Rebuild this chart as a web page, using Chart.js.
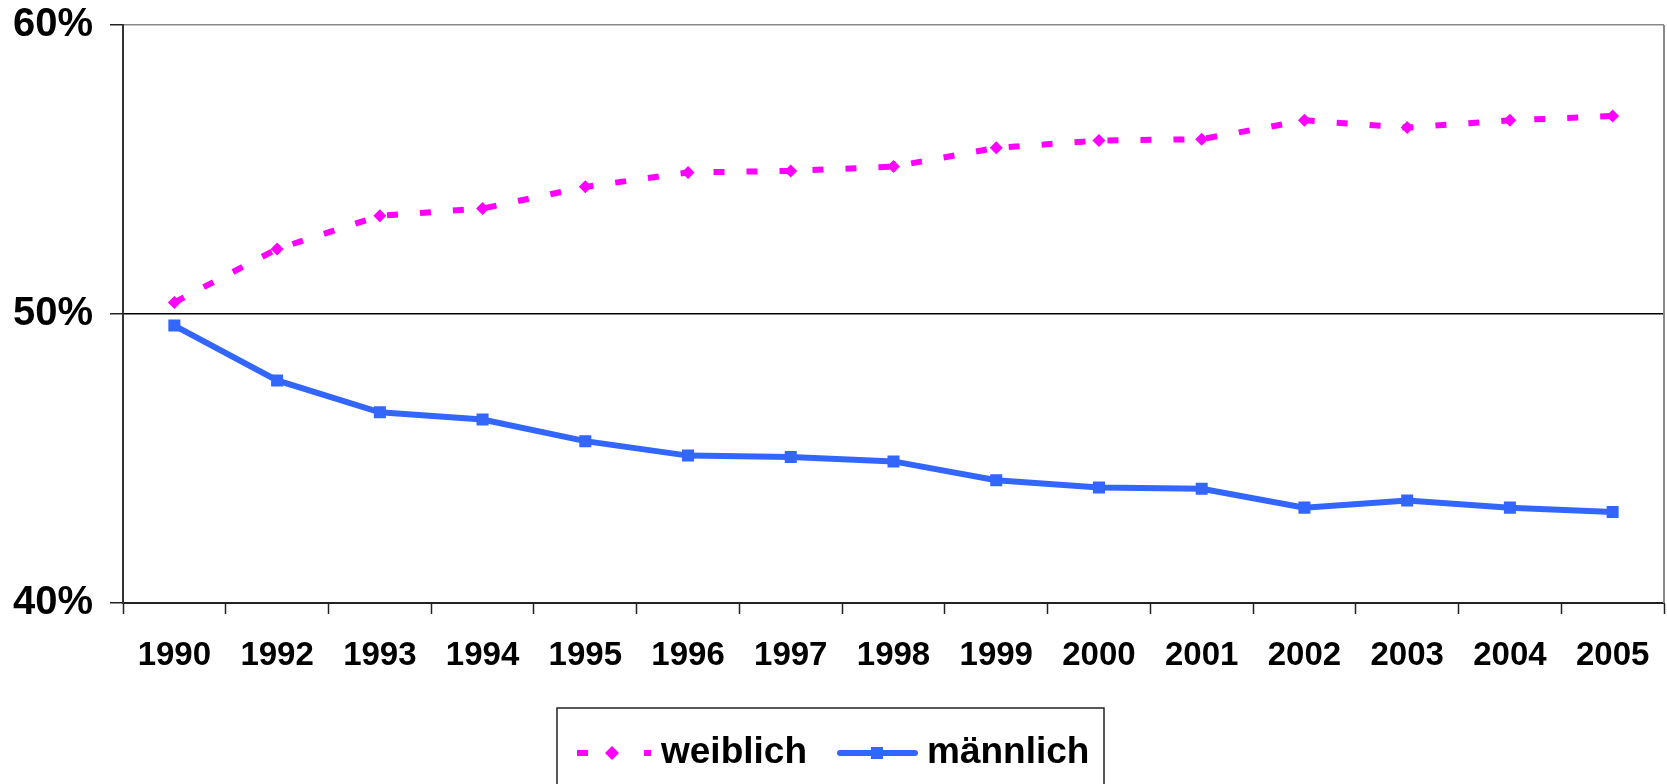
<!DOCTYPE html>
<html>
<head>
<meta charset="utf-8">
<script src="https://cdn.jsdelivr.net/npm/chart.js@4"></script>
<style>
  html, body { margin: 0; padding: 0; background: #fff; overflow: hidden; }
  #wrap { width: 1667px; height: 784px; }
  canvas { display: block; }
</style>
</head>
<body>
<div id="wrap"><canvas id="anteilChart"></canvas></div>
<script>
const jahre = ['1990', '1992', '1993', '1994', '1995', '1996', '1997', '1998', '1999', '2000', '2001', '2002', '2003', '2004', '2005'];
const weiblich = [50.4, 52.25, 53.4, 53.65, 54.4, 54.9, 54.95, 55.1, 55.75, 56.0, 56.05, 56.7, 56.45, 56.7, 56.85];
const maennlich = [49.6, 47.7, 46.6, 46.35, 45.6, 45.1, 45.05, 44.9, 44.25, 44.0, 43.95, 43.3, 43.55, 43.3, 43.15];
const yTicks = [40, 50, 60];

const pink = '#FF00FF';
const blau = '#3366FF';
const fontName = '"Liberation Sans", Arial, sans-serif';

// Rahmen rechts und Legende mit Kasten
const extras = {
    id: 'extras',
    beforeDatasetsDraw(chart) {
        const a = chart.chartArea;
        const ctx = chart.ctx;
        ctx.save();
        ctx.strokeStyle = '#888';
        ctx.lineWidth = 2;
        ctx.beginPath();
        ctx.moveTo(a.right, a.top);
        ctx.lineTo(a.right, a.bottom);
        ctx.stroke();
        ctx.restore();
    },
    afterDraw(chart) {
        const ctx = chart.ctx;
        const ds = chart.data.datasets;
        ctx.save();
        ctx.strokeStyle = '#222';
        ctx.lineWidth = 1.5;
        ctx.strokeRect(557, 708, 547, 100);

        const cy = 753;
        // weiblich: Strich - Raute - Strich
        ctx.strokeStyle = ds[0].borderColor;
        ctx.lineWidth = 6;
        ctx.beginPath();
        ctx.moveTo(577, cy); ctx.lineTo(588, cy);
        ctx.moveTo(644, cy); ctx.lineTo(651, cy);
        ctx.stroke();
        ctx.fillStyle = ds[0].borderColor;
        ctx.beginPath();
        ctx.moveTo(612, cy - 7); ctx.lineTo(619, cy); ctx.lineTo(612, cy + 7); ctx.lineTo(605, cy);
        ctx.closePath();
        ctx.fill();

        // männlich: Linie mit Quadrat
        ctx.strokeStyle = ds[1].borderColor;
        ctx.lineCap = 'round';
        ctx.beginPath();
        ctx.moveTo(840, cy); ctx.lineTo(915, cy);
        ctx.stroke();
        ctx.fillStyle = ds[1].borderColor;
        ctx.fillRect(871, cy - 6, 12, 12);

        ctx.fillStyle = '#000';
        ctx.font = 'bold 37px ' + fontName;
        ctx.textBaseline = 'middle';
        ctx.fillText(ds[0].label, 661, cy);
        ctx.fillText(ds[1].label, 927, cy);
        ctx.restore();
    }
};

const ctx1 = document.getElementById('anteilChart').getContext('2d');
const anteilChart = new Chart(ctx1, {
    type: 'line',
    data: {
        labels: jahre,
        datasets: [{
            label: 'weiblich',
            data: weiblich,
            borderColor: pink,
            backgroundColor: pink,
            borderWidth: 6,
            borderDash: [11, 22],
            pointStyle: 'rectRot',
            pointRadius: 6.5,
            pointBorderWidth: 0,
            tension: 0,
            fill: false
        }, {
            label: 'männlich',
            data: maennlich,
            borderColor: blau,
            backgroundColor: blau,
            borderWidth: 6,
            pointStyle: 'rect',
            pointRadius: 8.5,
            pointBorderWidth: 0,
            tension: 0,
            fill: false
        }]
    },
    options: {
        responsive: true,
        maintainAspectRatio: false,
        animation: false,
        layout: {
            autoPadding: false,
            padding: { top: 25, right: 3, bottom: 111, left: 0 }
        },
        plugins: {
            legend: { display: false },
            tooltip: { enabled: false }
        },
        scales: {
            x: {
                offset: true,
                afterFit: (s) => { s.height = 70; s.paddingLeft = 0; s.paddingRight = 0; },
                grid: {
                    offset: true,
                    drawOnChartArea: false,
                    tickLength: 11,
                    tickColor: '#222',
                    tickWidth: 1.5
                },
                border: { color: '#222', width: 2 },
                ticks: {
                    color: '#000',
                    padding: 22,
                    maxRotation: 0,
                    font: { family: fontName, size: 33, weight: 'bold' }
                }
            },
            y: {
                min: 40,
                max: 60,
                afterFit: (s) => { s.width = 123; s.paddingTop = 0; s.paddingBottom = 0; },
                afterBuildTicks: (s) => { s.ticks = yTicks.map(v => ({ value: v })); },
                grid: {
                    color: (c) => (c.tick && c.tick.value === 60 ? '#888' : '#000'),
                    lineWidth: 1.5,
                    tickLength: 13,
                    tickColor: '#222'
                },
                border: { color: '#333', width: 2 },
                ticks: {
                    color: '#000',
                    padding: 17,
                    callback: (v) => v + '%',
                    font: { family: fontName, size: 40, weight: 'bold' }
                }
            }
        }
    },
    plugins: [extras]
});
</script>
</body>
</html>
